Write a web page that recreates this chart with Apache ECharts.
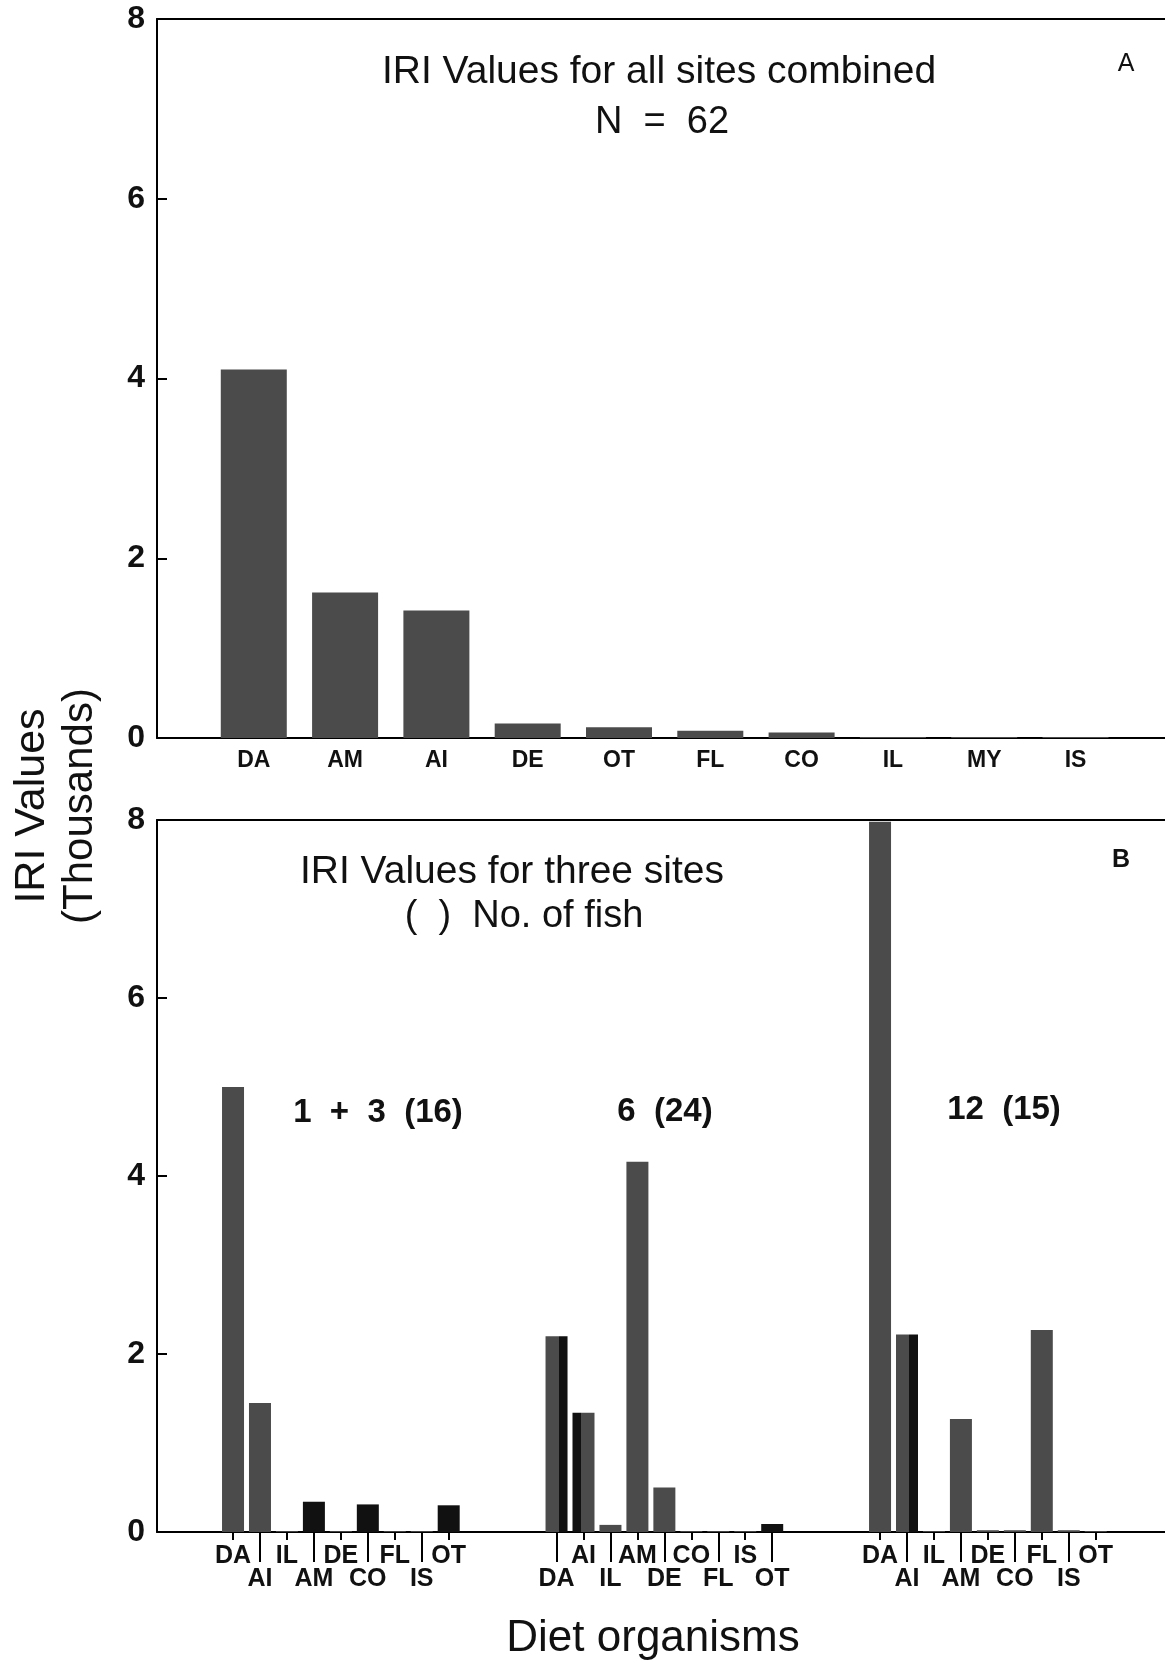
<!DOCTYPE html>
<html>
<head>
    <meta charset="utf-8">
    <title>IRI Values</title>
    <script src="https://cdn.jsdelivr.net/npm/echarts@6/dist/echarts.min.js"></script>
    <style>
        html, body {margin:0;padding:0;background:#fff;}
        #chart {width:1165px;height:1660px;}
    </style>
</head>
<body>
<div id="chart"></div>
<script>
    // panel A: all sites combined
    var catsA = ['DA', 'AM', 'AI', 'DE', 'OT', 'FL', 'CO', 'IL', 'MY', 'IS'];
    var iriAll = [4.10, 1.62, 1.42, 0.16, 0.12, 0.08, 0.06, 0.01, 0.01, 0.01];

    // panel B: three sites, same diet order in each group
    var catsB = ['DA', 'AI', 'IL', 'AM', 'DE', 'CO', 'FL', 'IS', 'OT'];
    var siteNames = ['1 + 3', '6', '12'];
    var fishCounts = [16, 24, 15];
    var iriSite13 = [5.00, 1.45, 0.01, 0.34, 0.01, 0.31, 0.01, 0.01, 0.30];
    var iriSite6 = [2.20, 1.34, 0.08, 4.16, 0.50, 0.01, 0.01, 0.01, 0.09];
    var iriSite12 = [7.98, 2.22, 0.01, 1.27, 0.02, 0.02, 2.27, 0.02, 0.01];
    var yTicks = [0, 2, 4, 6, 8];

    var FONT = "'Liberation Sans', Arial, sans-serif";
    var GRAY = '#4b4b4b', BLACK = '#111';
    var SLOTS = 12; // 9 categories + gap per site group

    var sitesB = [iriSite13, iriSite6, iriSite12];

    // shading of the scanned bars (site-category)
    var shade = {'0-3': 'black', '0-5': 'black', '0-8': 'black',
                 '1-1': 'splitL', '1-0': 'splitR', '1-8': 'black', '2-1': 'splitR'};

    function barColor(key) {
        var s = shade[key];
        if (s === 'black') return BLACK;
        if (s === 'splitR' || s === 'splitL') {
            var a = s === 'splitR' ? GRAY : BLACK, b = s === 'splitR' ? BLACK : GRAY;
            var cut = s === 'splitR' ? 0.6 : 0.4;
            return {type: 'linear', x: 0, y: 0, x2: 1, y2: 0, colorStops: [
                {offset: 0, color: a}, {offset: cut, color: a},
                {offset: cut, color: b}, {offset: 1, color: b}]};
        }
        return GRAY;
    }

    function isTopRow(g, k) {
        return (k + (g === 1 ? 1 : 0)) % 2 === 0;
    }

    var dataB = [], topPos = [], bottomPos = [];
    sitesB.forEach(function (vals, g) {
        vals.forEach(function (v, k) {
            var p = g * SLOTS + k;
            dataB.push({value: [p, v], itemStyle: {color: barColor(g + '-' + k)}});
            (isTopRow(g, k) ? topPos : bottomPos).push(p);
        });
    });

    function nameB(v) {
        var r = Math.round(v);
        return catsB[r % SLOTS] || '';
    }

    var minA = -1.06, maxA = 9.98;
    var minB = -2.82, maxB = 34.57;

    var axisLineStyle = {color: '#000', width: 2};

    function yAxisFor(gi) {
        return {
            gridIndex: gi, type: 'value', min: 0, max: 8, interval: 2,
            axisLine: {show: true, onZero: false, lineStyle: axisLineStyle},
            axisTick: {show: true, inside: true, length: 10, lineStyle: {color: '#000', width: 2},
                customValues: yTicks},
            splitLine: {show: false},
            axisLabel: {fontSize: 32, fontWeight: 'bold', color: '#111', margin: 12, fontFamily: FONT}
        };
    }

    function frameTop(gi, mn, mx) {
        return {
            gridIndex: gi, type: 'value', min: mn, max: mx, position: 'top',
            axisLine: {show: true, onZero: false, lineStyle: axisLineStyle},
            axisTick: {show: false}, axisLabel: {show: false}, splitLine: {show: false}
        };
    }

    var chart = echarts.init(document.getElementById('chart'));
    chart.setOption({
        animation: false,
        backgroundColor: '#fff',
        grid: [
            {left: 157, right: 0, top: 19, height: 719},
            {left: 157, right: 0, top: 820, height: 712}
        ],
        xAxis: [
            {
                gridIndex: 0, type: 'value', min: minA, max: maxA, position: 'bottom',
                axisLine: {show: true, lineStyle: axisLineStyle},
                axisTick: {show: false}, splitLine: {show: false},
                axisLabel: {
                    customValues: catsA.map(function (c, i) { return i; }),
                    formatter: function (v) { return catsA[Math.round(v)] || ''; },
                    fontSize: 23, fontWeight: 'bold', color: '#111', margin: 11, fontFamily: FONT
                }
            },
            frameTop(0, minA, maxA),
            {
                gridIndex: 1, type: 'value', min: minB, max: maxB, position: 'bottom',
                axisLine: {show: true, lineStyle: axisLineStyle},
                axisTick: {show: true, customValues: topPos, length: 8, lineStyle: {color: '#000', width: 2}},
                splitLine: {show: false},
                axisLabel: {
                    customValues: topPos, formatter: nameB,
                    fontSize: 25, fontWeight: 'bold', color: '#111', margin: 12, fontFamily: FONT
                }
            },
            {
                gridIndex: 1, type: 'value', min: minB, max: maxB, position: 'bottom', offset: 0,
                axisLine: {show: false},
                axisTick: {show: true, customValues: bottomPos, length: 30, lineStyle: {color: '#000', width: 2}},
                splitLine: {show: false},
                axisLabel: {
                    customValues: bottomPos, formatter: nameB,
                    fontSize: 25, fontWeight: 'bold', color: '#111', margin: 35, fontFamily: FONT
                }
            },
            frameTop(1, minB, maxB)
        ],
        yAxis: [yAxisFor(0), yAxisFor(1)],
        graphic: [
            {type: 'text', x: 659, y: 72, style: {text: 'IRI Values for all sites combined', font: '39px ' + FONT, fill: '#111', textAlign: 'center', textVerticalAlign: 'middle'}},
            {type: 'text', x: 662, y: 123, style: {text: 'N  =  62', font: '38px ' + FONT, fill: '#111', textAlign: 'center', textVerticalAlign: 'middle'}},
            {type: 'text', x: 1126, y: 64, style: {text: 'A', font: '25px ' + FONT, fill: '#111', textAlign: 'center', textVerticalAlign: 'middle'}},
            {type: 'text', x: 512, y: 872, style: {text: 'IRI Values for three sites', font: '39px ' + FONT, fill: '#111', textAlign: 'center', textVerticalAlign: 'middle'}},
            {type: 'text', x: 524, y: 917, style: {text: '(  )  No. of fish', font: '38px ' + FONT, fill: '#111', textAlign: 'center', textVerticalAlign: 'middle'}},
            {type: 'text', x: 1121, y: 860, style: {text: 'B', font: 'bold 25px ' + FONT, fill: '#111', textAlign: 'center', textVerticalAlign: 'middle'}},
            {type: 'text', x: 378, y: 1113, style: {text: siteNames[0].replace(/ /g, '  ') + '  (' + fishCounts[0] + ')', font: 'bold 33px ' + FONT, fill: '#111', textAlign: 'center', textVerticalAlign: 'middle'}},
            {type: 'text', x: 665, y: 1112, style: {text: siteNames[1] + '  (' + fishCounts[1] + ')', font: 'bold 33px ' + FONT, fill: '#111', textAlign: 'center', textVerticalAlign: 'middle'}},
            {type: 'text', x: 1004, y: 1110, style: {text: siteNames[2] + '  (' + fishCounts[2] + ')', font: 'bold 33px ' + FONT, fill: '#111', textAlign: 'center', textVerticalAlign: 'middle'}},
            {type: 'text', x: 32, y: 806, rotation: Math.PI / 2, style: {text: 'IRI Values', font: '43px ' + FONT, fill: '#111', textAlign: 'center', textVerticalAlign: 'middle'}},
            {type: 'text', x: 80, y: 806, rotation: Math.PI / 2, style: {text: '(Thousands)', font: '42px ' + FONT, fill: '#111', textAlign: 'center', textVerticalAlign: 'middle'}},
            {type: 'text', x: 653, y: 1639, style: {text: 'Diet organisms', font: '44px ' + FONT, fill: '#111', textAlign: 'center', textVerticalAlign: 'middle'}}
        ],
        series: [
            {
                name: 'All sites', type: 'bar', xAxisIndex: 0, yAxisIndex: 0, barWidth: 66,
                itemStyle: {color: GRAY},
                data: iriAll.map(function (v, i) { return [i, v]; })
            },
            {
                name: 'Three sites', type: 'bar', xAxisIndex: 2, yAxisIndex: 1, barWidth: 22,
                data: dataB
            }
        ]
    });
</script>
</body>
</html>
